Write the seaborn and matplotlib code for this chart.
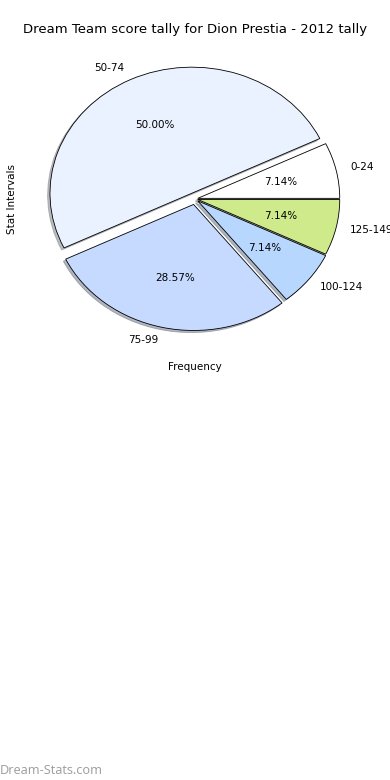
"""
Pie chart of Dream Team score intervals for Dion Prestia (2012)
"""

import matplotlib
matplotlib.use('Agg')
import matplotlib.pyplot as plt
import seaborn as sns

# Data
intervals = ['0-24', '50-74', '75-99', '100-124', '125-149']
frequency = [1, 7, 4, 1, 1]
slice_colors = ['#ffffff', '#ebf2ff', '#c6d9ff', '#b8d7ff', '#ceea8a']
explode = [0.02, 0.05, 0.045, 0.025, 0.02]

sns.set_style('white')
plt.rcParams['font.family'] = ['DejaVu Sans']
plt.rcParams['text.color'] = 'black'
plt.rcParams['axes.labelcolor'] = 'black'

fig = plt.figure(figsize=(3.9, 7.8), dpi=100)
ax = fig.add_axes([0.045, 0.543, 0.91, 0.404])

wedges, texts, autotexts = ax.pie(
    frequency, labels=intervals, colors=slice_colors, explode=explode,
    autopct='%1.2f%%', startangle=0,
    shadow={'ox': -0.012, 'oy': -0.012, 'shade': 0.5},
    wedgeprops={'edgecolor': 'black', 'linewidth': 0.6},
    textprops={'fontsize': 7.5, 'color': 'black'})
ax.set_aspect('auto')
ax.set_xlim(-1.25, 1.25)
ax.set_ylim(-1.25, 1.25)

ax.set_title('Dream Team score tally for Dion Prestia - 2012 tally', fontsize=9.5)
ax.set_xlabel('Frequency', fontsize=7.5)
ax.set_ylabel('Stat Intervals', fontsize=7.5, labelpad=0.5)

fig.text(0.0, 0.0035, 'Dream-Stats.com', fontsize=9.2, color='#9c9c9c',
         family='Open Sans', ha='left', va='bottom')

fig.savefig('out.png', dpi=100)
